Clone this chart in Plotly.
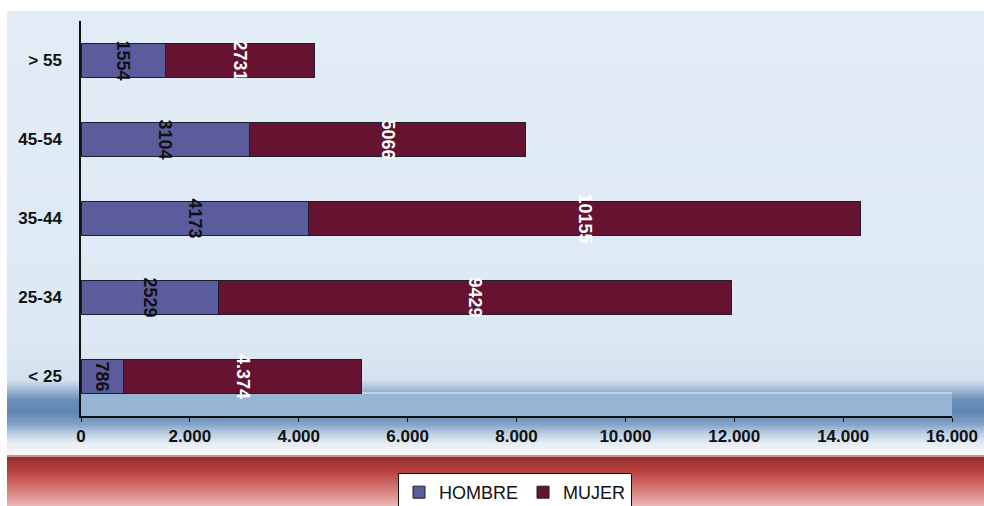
import plotly.graph_objects as go

categorias = ["< 25", "25-34", "35-44", "45-54", "> 55"]
hombre = [786, 2529, 4173, 3104, 1554]
mujer = [4374, 9429, 10155, 5066, 2731]
etiquetas_hombre = ["786", "2529", "4173", "3104", "1554"]
etiquetas_mujer = ["4.374", "9429", "10155", "5066", "2731"]
ticks_x = [0, 2000, 4000, 6000, 8000, 10000, 12000, 14000, 16000]

W, H = 984, 506
L, R, T, B = 81, 32, 21, 90
PW, PH = W - L - R, H - T - B

FONT = "Liberation Sans, Arial, sans-serif"

fig = go.Figure()
fig.add_trace(go.Bar(
    y=categorias, x=hombre, name="HOMBRE", orientation="h",
    marker=dict(color="#5b5c9c", line=dict(color="#1e1e2e", width=1)),
    text=etiquetas_hombre, textposition="inside", insidetextanchor="middle",
    textangle=90, constraintext="none",
    textfont=dict(color="#111111", size=18, family=FONT, weight="bold"),
))
fig.add_trace(go.Bar(
    y=categorias, x=mujer, name="MUJER", orientation="h",
    marker=dict(color="#651330", line=dict(color="#1e1e2e", width=1)),
    text=etiquetas_mujer, textposition="inside", insidetextanchor="middle",
    textangle=90, constraintext="none",
    textfont=dict(color="#ffffff", size=18, family=FONT, weight="bold"),
))

# background gradient strips (pixel based)
stops = [
    (11, (226, 236, 246)), (340, (220, 233, 244)), (380, (212, 226, 239)),
    (390, (160, 186, 214)), (400, (108, 144, 184)), (412, (96, 134, 176)),
    (424, (130, 162, 198)), (434, (190, 208, 226)), (443, (228, 236, 243)),
    (454, (248, 246, 246)), (458, (150, 48, 44)), (470, (180, 62, 60)),
    (488, (212, 118, 114)), (506, (234, 184, 182)),
]

def col(py):
    for (y0, c0), (y1, c1) in zip(stops, stops[1:]):
        if y0 <= py <= y1:
            t = (py - y0) / (y1 - y0) if y1 > y0 else 0
            c = [round(a + (b - a) * t) for a, b in zip(c0, c1)]
            return "rgb(%d,%d,%d)" % tuple(c)
    return "rgb(%d,%d,%d)" % stops[-1][1]

def px2x(px):
    return (px - L) / PW

def py2y(py):
    return (H - B - py) / PH

shapes = []
step = 2
py = 11
while py < H:
    shapes.append(dict(
        type="rect", xref="paper", yref="paper", layer="below",
        x0=px2x(7), x1=px2x(W + 2), y0=py2y(py + step + 0.6), y1=py2y(py),
        fillcolor=col(py + step / 2), line=dict(width=0),
    ))
    py += step

# lighter floor inside the plot area
shapes.append(dict(
    type="rect", xref="paper", yref="paper", layer="below",
    x0=0, x1=1, y0=0, y1=py2y(393),
    fillcolor="rgb(150,181,212)", line=dict(width=0),
))
shapes.append(dict(
    type="line", xref="paper", yref="paper", layer="below",
    x0=0, x1=1, y0=py2y(393), y1=py2y(393),
    line=dict(color="rgb(205,222,238)", width=1.5),
))

fig.update_layout(
    width=W, height=H,
    margin=dict(l=L, r=R, t=T, b=B, autoexpand=False),
    paper_bgcolor="white", plot_bgcolor="rgba(0,0,0,0)",
    barmode="stack", bargap=0.57,
    separators=",.",
    shapes=shapes,
    font=dict(family=FONT, color="#111111"),
    xaxis=dict(
        range=[0, 16000], tickvals=ticks_x, tickformat=",d",
        showgrid=False, zeroline=False, automargin=False,
        showline=True, linecolor="#111111", linewidth=1.5,
        ticks="outside", ticklen=4, tickcolor="#111111",
        tickfont=dict(size=17, family=FONT, weight="bold"),
    ),
    yaxis=dict(
        categoryorder="array", categoryarray=categorias,
        range=[-0.5, 4.5], showgrid=False, zeroline=False, automargin=False,
        showline=True, linecolor="#111111", linewidth=1.5,
        ticks="", ticklabelstandoff=14,
        tickfont=dict(size=17, family=FONT, weight="bold"),
    ),
    legend=dict(
        orientation="h", x=515 / W, xanchor="center", xref="container",
        y=1 - 473 / H, yanchor="top", yref="container",
        bgcolor="white", bordercolor="#111111", borderwidth=1,
        font=dict(size=18, family=FONT, color="#111111"),
        itemwidth=30, traceorder="normal", tracegroupgap=0,
    ),
    showlegend=True,
)

fig.write_html(
    "out.html",
    config={"displayModeBar": False},
    post_script="document.body.style.margin='0';document.body.style.overflow='hidden';",
)
